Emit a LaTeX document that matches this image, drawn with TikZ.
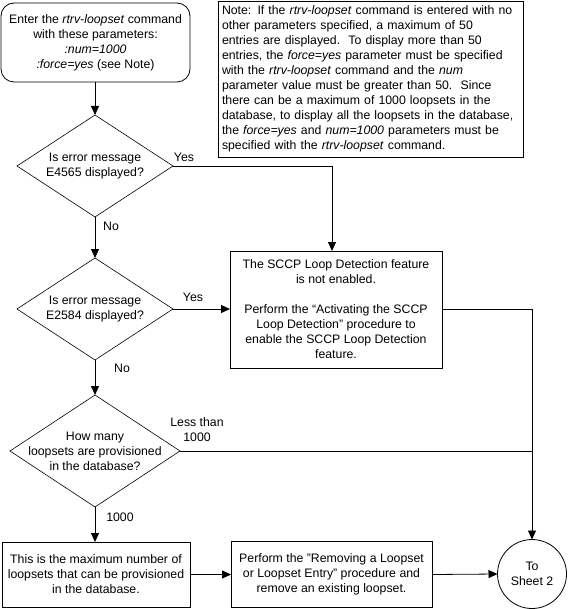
\documentclass[tikz,border=0pt]{standalone}
\usepackage{fontspec}
\setmainfont{Liberation Sans}
\usetikzlibrary{shapes.geometric,arrows.meta}
\begin{document}
\begin{tikzpicture}[x=1pt,y=-1pt,
  font=\fontsize{12.3}{15}\selectfont,
  every node/.style={outer sep=0pt},
  box/.style={draw, line width=0.8pt, align=center, inner sep=0pt},
  dia/.style={draw, diamond, line width=0.6pt, inner sep=0pt},
  arr/.style={-{Triangle[length=9pt,width=8pt]}, line width=0.8pt},
  ln/.style={line width=0.8pt},
  txt/.style={inner sep=0pt, align=center},
  lbl/.style={inner sep=0pt, align=center}]
\useasboundingbox (0,0) rectangle (567,609);

% boxes
\node[box, rounded corners=13pt, minimum width=189pt, minimum height=79pt] (start) at (95.5,42.5)
  {Enter the \textit{rtrv-loopset} command\\with these parameters:\\\textit{:num=1000}\\\textit{:force=yes} (see Note)};

\node[box, minimum width=305pt, minimum height=156pt, text width=297pt, align=left] (note) at (370.5,79)
  {Note: If the \textit{rtrv-loopset} command is entered with no\\
   other parameters specified, a maximum of 50\\
   entries are displayed.\ \ To display more than 50\\
   entries, the \textit{force=yes} parameter must be specified\\
   with the \textit{rtrv-loopset} command and the \textit{num}\\
   parameter value must be greater than 50.\ \ Since\\
   there can be a maximum of 1000 loopsets in the\\
   database, to display all the loopsets in the database,\\
   the \textit{force=yes} and \textit{num=1000} parameters must be\\
   specified with the \textit{rtrv-loopset} command.};

\node[dia, minimum width=156pt, minimum height=102pt] (d1) at (95,166) {};
\node[txt] (t1) at (d1) {Is error message\\E4565 displayed?};

\node[dia, minimum width=156pt, minimum height=102pt] (d2) at (95,309) {};
\node[txt] (t2) at (d2) {Is error message\\E2584 displayed?};

\node[box, minimum width=212pt, minimum height=117pt] (sccp) at (336,309.5)
  {The SCCP Loop Detection feature\\is not enabled.\\\mbox{}\\Perform the “Activating the SCCP\\Loop Detection” procedure to\\enable the SCCP Loop Detection\\feature.};

\node[dia, minimum width=170pt, minimum height=112pt] (d3) at (95,451) {};
\node[txt] (t3) at (d3) {How many\\loopsets are provisioned\\in the database?};

\node[box, minimum width=188pt, minimum height=65pt] (box1) at (96,574.5)
  {This is the maximum number of\\loopsets that can be provisioned\\in the database.};

\node[box, minimum width=201pt, minimum height=66pt] (box2) at (331.5,574.5)
  {Perform the "Removing a Loopset\\or Loopset Entry" procedure and\\remove an existing loopset.};

\node[draw, circle, line width=0.8pt, minimum size=69pt, inner sep=0pt, align=center] (circ) at (532,574) {To\\Sheet 2};

% labels
\node[lbl] (l1) at (184,157) {Yes};
\node[lbl] (l2) at (111,226) {No};
\node[lbl] (l3) at (193,297) {Yes};
\node[lbl] (l4) at (122,368) {No};
\node[lbl] (l5) at (197,430) {Less than\\1000};
\node[lbl] (l6) at (120,517) {1000};

% connectors
\coordinate (sccpin) at ([xshift=-4pt]sccp.north);
\draw[arr] (d1.north |- start.south) -- (d1.north);
\draw[arr] (d1.east) -| (sccpin);
\draw[arr] (d1.south) -- (d2.north);
\draw[arr] (d2.east) -- (d2.east -| sccp.west);
\draw[arr] (d2.south) -- (d3.north);
\draw[arr] (d3.south) -- (d3.south |- box1.north);
\draw[arr] (box1.east) -- (box2.west);
\draw[arr] (box2.east) -- (circ.west);
\draw[arr] (sccp.east) -| (circ.north);
\draw[ln] (d3.east) -- (d3.east -| circ.north);
\end{tikzpicture}
\end{document}
